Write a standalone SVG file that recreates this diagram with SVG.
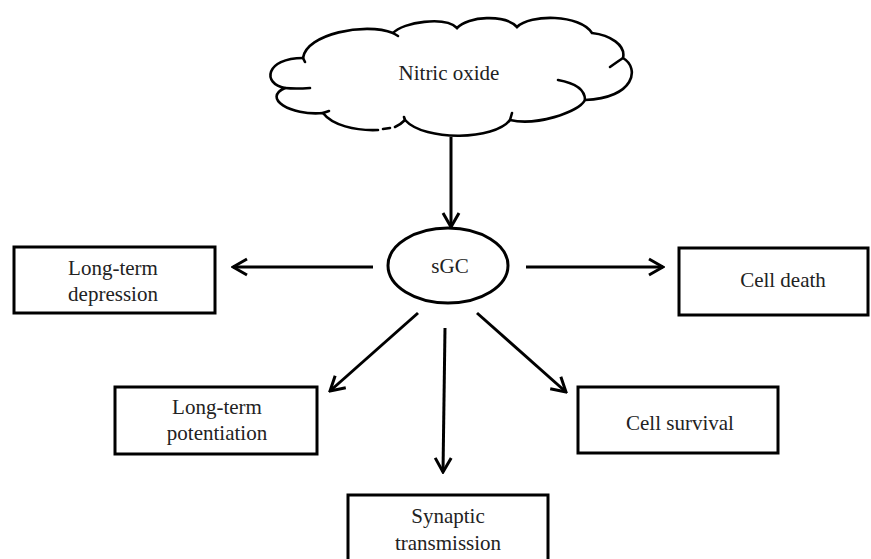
<svg xmlns="http://www.w3.org/2000/svg" width="871" height="559" viewBox="0 0 871 559">
<defs>
<style>
.ln{stroke:#000;stroke-width:3;fill:none}
.box{stroke:#000;stroke-width:3;fill:#fff}
.cl{stroke:#000;stroke-width:2.6;fill:none;stroke-linecap:round}
.t{font-family:"Liberation Serif","Times New Roman",serif;font-size:21px;fill:#222;text-anchor:middle}
</style>
<marker id="ah" markerUnits="userSpaceOnUse" viewBox="0 0 18 20" markerWidth="18" markerHeight="20" refX="16" refY="10" orient="auto">
<path d="M2,2 L16,10 L2,18" fill="none" stroke="#000" stroke-width="3"/>
</marker>
</defs>
<rect width="871" height="559" fill="#fff"/>
<g id="nitric-oxide">
<path class="cl" d="M303,58 C306,34 365,22 393,33 C403,22 445,16 457,28 C468,16 505,14 517,27 C530,14 580,14 592,33 C610,35 626,45 623,58 C640,68 635,98 585,100 C578,113 535,126 510,120 C495,140 425,142 405,120 Q400,125 395,127"/>
<path class="cl" d="M390,128 L383,129"/>
<path class="cl" d="M378,130 C355,131 332,125 323,113 C290,116 262,98 285,88 C262,84 265,58 303,58"/>
<path class="cl" d="M285,88 Q295,89 310,88"/>
<path class="cl" d="M323,113 L329,111"/>
<path class="cl" d="M405,120 L404,117"/>
<path class="cl" d="M510,120 L512,113"/>
<path class="cl" d="M585,100 C585,90 575,83 558,80"/>
<path class="cl" d="M623,58 Q617,62 610,67"/>
<path class="cl" d="M393,33 L398,36"/>
<path class="cl" d="M303,58 L305,62"/>
<text class="t" x="449" y="80">Nitric oxide</text>
</g>
<g id="sgc">
<ellipse cx="448" cy="265.5" rx="60" ry="37.5" fill="#fff" stroke="#000" stroke-width="3"/>
<text class="t" x="450" y="273">sGC</text>
</g>
<g id="ltd">
<rect class="box" x="14" y="247" width="201" height="66"/>
<text class="t" x="113" y="275">Long-term</text>
<text class="t" x="113" y="301">depression</text>
</g>
<g id="cell-death">
<rect class="box" x="679" y="248" width="189" height="67"/>
<text class="t" x="783" y="287">Cell death</text>
</g>
<g id="ltp">
<rect class="box" x="115" y="387" width="202" height="67"/>
<text class="t" x="217" y="414">Long-term</text>
<text class="t" x="217" y="440">potentiation</text>
</g>
<g id="synaptic">
<rect class="box" x="348" y="495" width="200" height="70"/>
<text class="t" x="448" y="523">Synaptic</text>
<text class="t" x="448" y="550">transmission</text>
</g>
<g id="cell-survival">
<rect class="box" x="578" y="387" width="200" height="66"/>
<text class="t" x="680" y="430">Cell survival</text>
</g>
<g id="connectors">
<line class="ln" x1="451" y1="137" x2="451" y2="227" marker-end="url(#ah)"/>
<line class="ln" x1="373" y1="267" x2="233" y2="267" marker-end="url(#ah)"/>
<line class="ln" x1="526" y1="267" x2="663" y2="267" marker-end="url(#ah)"/>
<line class="ln" x1="418" y1="313" x2="330" y2="391" marker-end="url(#ah)"/>
<line class="ln" x1="445" y1="328" x2="443" y2="472" marker-end="url(#ah)"/>
<line class="ln" x1="477" y1="313" x2="566" y2="392" marker-end="url(#ah)"/>
</g>
</svg>
